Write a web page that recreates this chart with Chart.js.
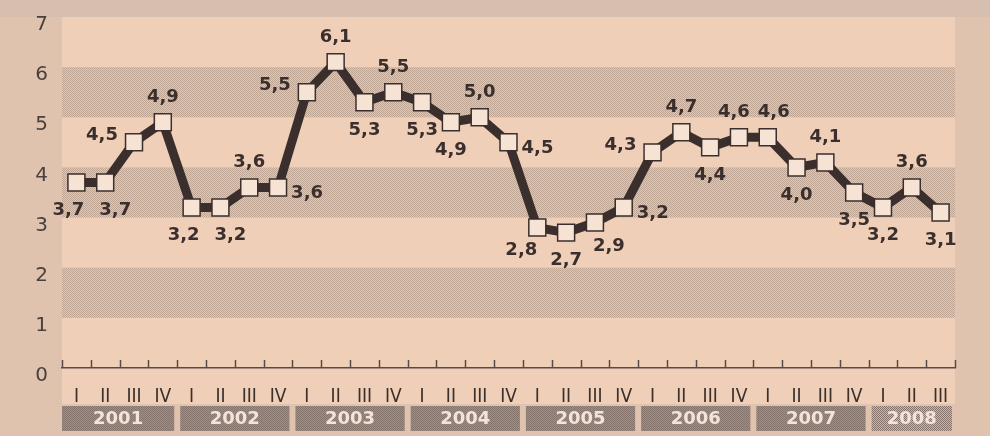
<!DOCTYPE html>
<html>
<head>
<meta charset="utf-8">
<script src="https://cdn.jsdelivr.net/npm/chart.js@4.4.0/dist/chart.umd.min.js"></script>
<style>
  html, body { margin: 0; padding: 0; background: #e3c5af; overflow: hidden; }
  #wrap { width: 990px; height: 436px; position: relative; }
  canvas { display: block; }
</style>
</head>
<body>
<div id="wrap"><canvas id="chart" width="990" height="436"></canvas></div>
<script>
// Data (quarterly, 2001 Q1 - 2008 Q3)
const years = ['2001', '2002', '2003', '2004', '2005', '2006', '2007', '2008'];
const quarterLabels = [
    'I', 'II', 'III', 'IV', 'I', 'II', 'III', 'IV',
    'I', 'II', 'III', 'IV', 'I', 'II', 'III', 'IV',
    'I', 'II', 'III', 'IV', 'I', 'II', 'III', 'IV',
    'I', 'II', 'III', 'IV', 'I', 'II', 'III'
];
const values = [
    3.7, 3.7, 4.5, 4.9, 3.2, 3.2, 3.6, 3.6,
    5.5, 6.1, 5.3, 5.5, 5.3, 4.9, 5.0, 4.5,
    2.8, 2.7, 2.9, 3.2, 4.3, 4.7, 4.4, 4.6,
    4.6, 4.0, 4.1, 3.5, 3.2, 3.6, 3.1
];
const yTicks = [0, 1, 2, 3, 4, 5, 6, 7];

// where each value label sits relative to its marker
const labelPlacement = [
    'bL', 'bR', 'l', 'a', 'bL', 'bR', 'a', 'r',
    'l', 'a', 'b', 'a', 'b', 'b', 'a', 'r',
    'bl', 'b', 'br', 'r', 'l', 'a', 'b', 'aL',
    'aR', 'b', 'a', 'b', 'b', 'a', 'b'
];
const placementOffset = {
    a: [0, -25], b: [0, 28], l: [-32, -7], r: [29, 6], bl: [-16, 23], br: [14, 24],
    bL: [-8, 28], bR: [10, 28], aL: [-5, -25], aR: [6, -25]
};

const INK = '#3a2f2c';
const LIGHT = '#f0cfb8';

function makePattern(c1, c2) {
    const p = document.createElement('canvas');
    p.width = 2; p.height = 2;
    const pc = p.getContext('2d');
    pc.fillStyle = c1; pc.fillRect(0, 0, 2, 2);
    pc.fillStyle = c2; pc.fillRect(0, 0, 1, 1); pc.fillRect(1, 1, 1, 1);
    return pc.createPattern(p, 'repeat');
}

const ctx = document.getElementById('chart').getContext('2d');
const bandPattern = makePattern('#e3c6b2', '#bfa594');
const yearPattern = makePattern('#a08e84', '#86756c');
const yearPattern2008 = makePattern('#cbb6a9', '#85726a');

// Background: page, light plot area and dotted bands
const backgroundPlugin = {
    id: 'background',
    beforeDraw(chart) {
        const { ctx, chartArea: a, scales: { y } } = chart;
        ctx.save();
        ctx.fillStyle = '#e0c3ae';
        ctx.fillRect(0, 0, chart.width, chart.height);
        ctx.fillStyle = '#d6bfaf';
        ctx.fillRect(0, 0, chart.width, a.top);
        ctx.fillStyle = LIGHT;
        ctx.fillRect(a.left, a.top, a.right - a.left, 404 - a.top);
        ctx.fillStyle = bandPattern;
        [[1, 2], [3, 4], [5, 6]].forEach(([lo, hi]) => {
            const top = y.getPixelForValue(hi);
            const bot = y.getPixelForValue(lo);
            ctx.fillRect(a.left, top, a.right - a.left, bot - top);
        });
        ctx.restore();
    }
};

// Upward tick marks and the year boxes under the quarters
const axisPlugin = {
    id: 'axisExtras',
    afterDraw(chart) {
        const { ctx, chartArea: a } = chart;
        const w = (a.right - a.left) / quarterLabels.length;
        ctx.save();
        ctx.strokeStyle = '#5a4a44';
        ctx.lineWidth = 1.5;
        for (let i = 0; i <= quarterLabels.length; i++) {
            const px = Math.round(a.left + i * w) + 0.5;
            ctx.beginPath();
            ctx.moveTo(px, a.bottom);
            ctx.lineTo(px, a.bottom - 8);
            ctx.stroke();
        }
        ctx.font = 'bold 18px "DejaVu Sans", sans-serif';
        ctx.textAlign = 'center';
        ctx.textBaseline = 'middle';
        years.forEach((yr, k) => {
            const first = k * 4;
            const last = Math.min(first + 4, quarterLabels.length);
            const x0 = a.left + first * w + (k === 0 ? 0 : 3);
            const x1 = a.left + last * w - 3;
            ctx.fillStyle = yr === '2008' ? yearPattern2008 : yearPattern;
            ctx.fillRect(x0, 406, x1 - x0, 25);
            ctx.fillStyle = '#f3e4da';
            ctx.fillText(yr, (x0 + x1) / 2, 419);
        });
        ctx.restore();
    }
};

// Value labels with decimal comma
const valueLabelPlugin = {
    id: 'valueLabels',
    afterDatasetsDraw(chart) {
        const { ctx } = chart;
        const meta = chart.getDatasetMeta(0);
        ctx.save();
        ctx.font = 'bold 18px "DejaVu Sans", sans-serif';
        ctx.fillStyle = INK;
        ctx.textAlign = 'center';
        ctx.textBaseline = 'middle';
        meta.data.forEach((pt, i) => {
            const [dx, dy] = placementOffset[labelPlacement[i]];
            ctx.fillText(values[i].toFixed(1).replace('.', ','), pt.x + dx, pt.y + dy);
        });
        ctx.restore();
    }
};

const chart = new Chart(ctx, {
    type: 'line',
    data: {
        labels: quarterLabels,
        datasets: [{
            data: values,
            borderColor: INK,
            borderWidth: 9,
            tension: 0,
            pointStyle: 'rect',
            pointRadius: 12,
            pointHoverRadius: 12,
            pointBackgroundColor: '#f7e3d3',
            pointBorderColor: INK,
            pointBorderWidth: 1.5
        }]
    },
    options: {
        responsive: false,
        animation: false,
        events: [],
        layout: { padding: { top: 17, right: 35, left: 0, bottom: 0 } },
        plugins: {
            legend: { display: false },
            tooltip: { enabled: false }
        },
        scales: {
            x: {
                type: 'category',
                offset: true,
                grid: { display: false, drawTicks: false },
                border: { display: true, color: '#5a4a44', width: 1.5 },
                ticks: {
                    autoSkip: false,
                    maxRotation: 0,
                    padding: 18,
                    color: INK,
                    font: { family: '"DejaVu Sans Condensed", "DejaVu Sans", sans-serif', size: 19 }
                },
                afterFit(scale) {
                    scale.height = 68;
                    scale.paddingLeft = 0;
                    scale.paddingRight = 0;
                }
            },
            y: {
                min: 0,
                max: 7,
                afterBuildTicks(scale) { scale.ticks = yTicks.map(v => ({ value: v })); },
                grid: { display: false, drawTicks: false },
                border: { display: false },
                ticks: {
                    padding: 14,
                    labelOffset: 8,
                    color: '#4a403c',
                    font: { family: '"DejaVu Sans", sans-serif', size: 20 }
                },
                afterFit(scale) {
                    scale.width = 62;
                    scale.paddingTop = 0;
                    scale.paddingBottom = 0;
                }
            }
        }
    },
    plugins: [backgroundPlugin, axisPlugin, valueLabelPlugin]
});
</script>
</body>
</html>
